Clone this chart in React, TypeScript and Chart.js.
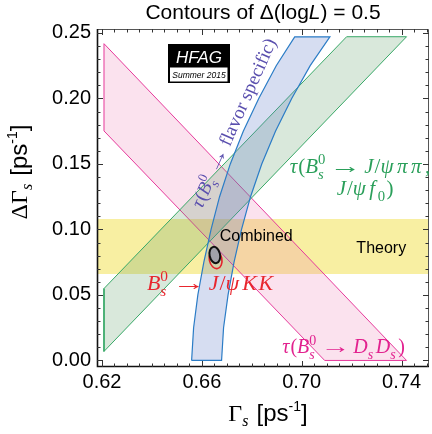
import React, { useEffect, useRef } from 'react';
import { Chart, registerables } from 'chart.js';

Chart.register(...registerables);

// ---------- axes ----------
const gammaMin = 0.618;
const gammaMax = 0.751;
const deltaGammaMin = -0.005;
const deltaGammaMax = 0.253;
const xTickLabels = ['0.62', '0.66', '0.70', '0.74'];
const yTickLabels = ['0.00', '0.05', '0.10', '0.15', '0.20', '0.25'];
const xTickStart = 0.62;
const xTickStep = 0.005;
const xTickCount = 27;
const yTickStart = 0.0;
const yTickStep = 0.01;
const yTickCount = 26;

// ---------- constraint bands (Γs, ΔΓs) ----------
// τ(Bs → Ds Ds)
const dsdsGamma = [0.6208, 0.742, 0.7092, 0.6208, 0.6208];
const dsdsDeltaGamma = [0.2418, 0.0, 0.0, 0.1752, 0.2418];

// τ(Bs → J/ψππ, J/ψf0)
const pipiGamma = [0.6208, 0.742, 0.718, 0.6208, 0.6208];
const pipiDeltaGamma = [0.0069, 0.2471, 0.2471, 0.0549, 0.0069];

// τ(Bs → flavour specific): Γs edges of the band at each ΔΓs
const fsDeltaGamma = [0, 0.025, 0.05, 0.075, 0.1, 0.125, 0.15, 0.175, 0.2, 0.225, 0.247];
const fsGammaLow = [0.6559, 0.6567, 0.6584, 0.6608, 0.6637, 0.6671, 0.6714, 0.6766, 0.6828, 0.6898, 0.6972];
const fsGammaHigh = [0.6679, 0.6687, 0.6705, 0.6729, 0.6759, 0.6795, 0.684, 0.6895, 0.696, 0.7034, 0.7113];

// theory prediction for ΔΓs
const theoryDeltaGamma = [0.066, 0.108];

// ΔlogL = 0.5 contours: [Γs, ΔΓs, σ(Γs), σ(ΔΓs)]
const combinedContour = [0.6652, 0.0805, 0.0021, 0.0063];
const jpsiKKContour = [0.6655, 0.0772, 0.0025, 0.0072];
const contourTiltDeg = -12;

// ---------- helpers ----------
const SERIF = '"Liberation Serif", "DejaVu Serif", serif';
const SANS = '"Liberation Sans", "DejaVu Sans", sans-serif';

const toPoints = (xs: number[], ys: number[]) => xs.map((x, i) => ({ x, y: ys[i] }));

const fsPoints = [
  ...fsDeltaGamma.map((d, i) => ({ x: fsGammaLow[i], y: d })),
  ...fsDeltaGamma.map((d, i) => ({ x: fsGammaHigh[i], y: d })).reverse(),
];
fsPoints.push({ ...fsPoints[0] });

const theoryPoints = toPoints(
  [gammaMin, gammaMax, gammaMax, gammaMin, gammaMin],
  [theoryDeltaGamma[0], theoryDeltaGamma[0], theoryDeltaGamma[1], theoryDeltaGamma[1], theoryDeltaGamma[0]]
);

const xTickValues = Array.from({ length: xTickCount }, (_, i) => +(xTickStart + i * xTickStep).toFixed(4));
const yTickValues = Array.from({ length: yTickCount }, (_, i) => +(yTickStart + i * yTickStep).toFixed(4));

const labelFor = (v: number, labels: string[]) => labels.find((l) => Math.abs(parseFloat(l) - v) < 1e-6) ?? '';

type Run = {
  t?: string;
  f?: string;
  dy?: number;
  sx?: number;
  pad?: number;
  lead?: number;
  sub?: string;
  sup?: string;
  subF?: string;
  supF?: string;
  subDy?: number;
  supDy?: number;
};

function runWidth(ctx: CanvasRenderingContext2D, r: Run) {
  if (r.t !== undefined) {
    ctx.font = r.f!;
    return ctx.measureText(r.t).width * (r.sx || 1) + (r.pad || 0) + (r.lead || 0);
  }
  let w = 0;
  if (r.sub) {
    ctx.font = r.subF!;
    w = Math.max(w, ctx.measureText(r.sub).width);
  }
  if (r.sup) {
    ctx.font = r.supF!;
    w = Math.max(w, ctx.measureText(r.sup).width);
  }
  return w + 1.5 + (r.pad || 0);
}

function drawRuns(ctx: CanvasRenderingContext2D, runs: Run[], x: number, y: number, align: 'left' | 'center' = 'left') {
  const widths = runs.map((r) => runWidth(ctx, r));
  const total = widths.reduce((a, b) => a + b, 0);
  let cx = align === 'center' ? x - total / 2 : x;
  ctx.textAlign = 'left';
  ctx.textBaseline = 'alphabetic';
  runs.forEach((r, i) => {
    if (r.t !== undefined) {
      ctx.font = r.f!;
      const gx = cx + (r.lead || 0);
      if (r.sx) {
        ctx.save();
        ctx.translate(gx, y + (r.dy || 0));
        ctx.scale(r.sx, 1);
        ctx.fillText(r.t, 0, 0);
        ctx.restore();
      } else {
        ctx.fillText(r.t, gx, y + (r.dy || 0));
      }
    } else {
      if (r.sub) {
        ctx.font = r.subF!;
        ctx.fillText(r.sub, cx, y + (r.subDy || 0));
      }
      if (r.sup) {
        ctx.font = r.supF!;
        ctx.fillText(r.sup, cx, y + (r.supDy || 0));
      }
    }
    cx += widths[i];
  });
}

function mathFonts(size: number) {
  return {
    it: `italic ${size}px ${SERIF}`,
    rm: `${size}px ${SERIF}`,
    sIt: `italic ${(size * 0.7).toFixed(1)}px ${SERIF}`,
    sRm: `${(size * 0.7).toFixed(1)}px ${SERIF}`,
  };
}

// relation arrow with thick-space padding on both sides
function arrow(size: number): Run[] {
  const m = mathFonts(size);
  return [{ t: '→', f: m.rm, sx: 1.5, lead: size * 0.14, pad: size * 0.14 }];
}

function bsZero(size: number): Run[] {
  const m = mathFonts(size);
  return [
    { t: 'B', f: m.it },
    { sub: 's', sup: '0', subF: m.sIt, supF: m.sRm, subDy: size * 0.28, supDy: -size * 0.42 },
  ];
}

function greek(chars: string, size: number, pad: number): Run[] {
  const m = mathFonts(size);
  return chars.split('').map((c) => ({ t: c, f: m.it, pad }));
}

function fsLabel(size: number): Run[] {
  const m = mathFonts(size);
  return [
    { t: 'τ', f: m.it, pad: 1 },
    { t: '(', f: m.rm },
    ...bsZero(size),
    ...arrow(size),
    { t: 'flavor specific)', f: m.rm },
  ];
}

function pipiLabel1(size: number): Run[] {
  const m = mathFonts(size);
  return [
    { t: 'τ', f: m.it, pad: 1 },
    { t: '(', f: m.rm },
    ...bsZero(size),
    ...arrow(size),
    { t: 'J', f: m.it, pad: 1 },
    { t: '/', f: m.rm },
    ...greek('ψππ', size, 3.5),
    { t: ',', f: m.rm },
  ];
}

function pipiLabel2(size: number): Run[] {
  const m = mathFonts(size);
  return [
    { t: 'J', f: m.it, pad: 1 },
    { t: '/', f: m.rm },
    ...greek('ψ', size, 3.5),
    { t: 'f', f: m.it, pad: 2.5 },
    { sub: '0', subF: m.sRm, subDy: size * 0.28 },
    { t: ')', f: m.rm },
  ];
}

function kkLabel(size: number): Run[] {
  const m = mathFonts(size);
  return [
    ...bsZero(size),
    ...arrow(size),
    { t: 'J', f: m.it, pad: 1 },
    { t: '/', f: m.rm },
    ...greek('ψ', size, 3),
    { t: 'K', f: m.it, pad: 1.5 },
    { t: 'K', f: m.it },
  ];
}

function dsdsLabel(size: number): Run[] {
  const m = mathFonts(size);
  return [
    { t: 'τ', f: m.it, pad: 1 },
    { t: '(', f: m.rm },
    ...bsZero(size),
    ...arrow(size),
    { t: 'D', f: m.it },
    { sub: 's', subF: m.sIt, subDy: size * 0.28, pad: 1 },
    { t: 'D', f: m.it },
    { sub: 's', subF: m.sIt, subDy: size * 0.28, pad: 1 },
    { t: ')', f: m.rm },
  ];
}

function axisTitle(symbol: Run[], size: number): Run[] {
  return [
    ...symbol,
    { t: ' [ps', f: `${size}px ${SANS}` },
    { t: '-1', f: `${Math.round(size * 0.6)}px ${SANS}`, dy: -size * 0.42 },
    { t: ']', f: `${size}px ${SANS}` },
  ];
}

const decorations = {
  id: 'decorations',
  afterDatasetsDraw(chart: any) {
    const { ctx, chartArea: a, scales } = chart;
    const xs = scales.x;
    const ys = scales.y;
    const px = (v: number) => xs.getPixelForValue(v);
    const py = (v: number) => ys.getPixelForValue(v);

    // likelihood contours
    const contour = (c: number[], stroke: string, lw: number, fill?: string) => {
      const cx = px(c[0]);
      const cy = py(c[1]);
      const rx = Math.abs(px(c[0] + c[2]) - cx);
      const ry = Math.abs(py(c[1] + c[3]) - cy);
      ctx.save();
      ctx.beginPath();
      ctx.ellipse(cx, cy, rx, ry, (contourTiltDeg * Math.PI) / 180, 0, Math.PI * 2);
      if (fill) {
        ctx.fillStyle = fill;
        ctx.fill();
      }
      ctx.lineWidth = lw;
      ctx.strokeStyle = stroke;
      ctx.stroke();
      ctx.restore();
    };
    contour(jpsiKKContour, '#e3232c', 1.6);
    contour(combinedContour, '#111111', 2, '#a2a2aa');

    // frame
    ctx.save();
    ctx.strokeStyle = '#555';
    ctx.lineWidth = 1;
    ctx.beginPath();
    ctx.moveTo(a.left, a.top + 0.5);
    ctx.lineTo(a.right - 0.5, a.top + 0.5);
    ctx.lineTo(a.right - 0.5, a.bottom);
    ctx.stroke();
    ctx.strokeStyle = '#111';
    ctx.lineWidth = 1.6;
    ctx.beginPath();
    ctx.moveTo(a.left + 0.5, a.top);
    ctx.lineTo(a.left + 0.5, a.bottom - 0.5);
    ctx.lineTo(a.right, a.bottom - 0.5);
    ctx.stroke();

    // inward tick marks on all four sides
    ctx.strokeStyle = '#333';
    ctx.lineWidth = 1;
    ctx.beginPath();
    xs.ticks.forEach((t: any) => {
      const x = Math.round(px(t.value)) + 0.5;
      const len = labelFor(t.value, xTickLabels) ? 6 : 3.5;
      ctx.moveTo(x, a.bottom);
      ctx.lineTo(x, a.bottom - len);
      ctx.moveTo(x, a.top);
      ctx.lineTo(x, a.top + len);
    });
    ys.ticks.forEach((t: any) => {
      const y = Math.round(py(t.value)) + 0.5;
      const len = labelFor(t.value, yTickLabels) ? 6 : 3.5;
      ctx.moveTo(a.left, y);
      ctx.lineTo(a.left + len, y);
      ctx.moveTo(a.right, y);
      ctx.lineTo(a.right - len, y);
    });
    ctx.stroke();
    ctx.restore();

    // band labels
    ctx.save();
    ctx.fillStyle = '#5a4fae';
    ctx.translate(px(0.6601), py(0.1155));
    ctx.rotate((-66 * Math.PI) / 180);
    drawRuns(ctx, fsLabel(19), 0, 0);
    ctx.restore();

    ctx.save();
    ctx.fillStyle = '#2a9f5a';
    drawRuns(ctx, pipiLabel1(21), px(0.6952), py(0.1431));
    drawRuns(ctx, pipiLabel2(21), px(0.714), py(0.1262));

    ctx.fillStyle = '#e8262e';
    drawRuns(ctx, kkLabel(22), px(0.638), py(0.0536));

    ctx.fillStyle = '#e2228f';
    drawRuns(ctx, dsdsLabel(20), px(0.6922), py(0.0054));

    ctx.fillStyle = '#000';
    ctx.font = `16px ${SANS}`;
    ctx.textAlign = 'left';
    ctx.textBaseline = 'alphabetic';
    ctx.fillText('Combined', px(0.6672), py(0.0914));
    ctx.fillText('Theory', px(0.7219), py(0.0821));
    ctx.restore();

    // HFAG badge
    ctx.save();
    const bx = a.left + 71;
    const by = a.top + 15;
    ctx.fillStyle = '#000';
    ctx.fillRect(bx, by, 62, 39);
    ctx.fillStyle = '#fff';
    ctx.fillRect(bx + 2, by + 23.5, 57.5, 14);
    ctx.font = `italic 17px ${SANS}`;
    ctx.textAlign = 'center';
    ctx.textBaseline = 'alphabetic';
    ctx.fillText('HFAG', bx + 31, by + 18.5);
    ctx.fillStyle = '#000';
    ctx.font = `italic 8.5px ${SANS}`;
    ctx.fillText('Summer 2015', bx + 31, by + 34);
    ctx.restore();
  },
  afterDraw(chart: any) {
    const { ctx, chartArea: a } = chart;
    const mid = (a.left + a.right) / 2;
    ctx.save();
    ctx.fillStyle = '#000';
    drawRuns(
      ctx,
      [
        { t: 'Contours of Δ(log', f: `21px ${SANS}` },
        { t: 'L', f: `italic 21px ${SANS}` },
        { t: ') = 0.5', f: `21px ${SANS}` },
      ],
      mid,
      19,
      'center'
    );
    drawRuns(
      ctx,
      axisTitle(
        [
          { t: 'Γ', f: `24px ${SERIF}` },
          { sub: 's', subF: `italic 16px ${SERIF}`, subDy: 5 },
        ],
        24
      ),
      mid + 5,
      421,
      'center'
    );
    ctx.translate(27, 172);
    ctx.rotate(-Math.PI / 2);
    drawRuns(
      ctx,
      axisTitle(
        [
          { t: 'ΔΓ', f: `24px ${SERIF}` },
          { sub: 's', subF: `italic 16px ${SERIF}`, subDy: 5 },
        ],
        24
      ),
      0,
      0,
      'center'
    );
    ctx.restore();
  },
};

export default function App() {
  const ref = useRef<HTMLCanvasElement>(null);

  useEffect(() => {
    const canvas = ref.current;
    if (!canvas) return;
    const band = (label: string, data: any[], border: string, fill: string, width = 1) => ({
      label,
      data,
      borderColor: border,
      backgroundColor: fill,
      borderWidth: width,
      fill: 'shape',
      pointRadius: 0,
      tension: 0,
    });
    const chart = new Chart(canvas, {
      type: 'line',
      data: {
        datasets: [
          band('flavour specific', fsPoints, '#2b7cc6', 'rgba(90,120,200,0.25)', 1.2),
          band('J/ψππ', toPoints(pipiGamma, pipiDeltaGamma), '#38a867', 'rgba(80,150,90,0.22)'),
          band('DsDs', toPoints(dsdsGamma, dsdsDeltaGamma), '#e6399b', 'rgba(236,110,170,0.2)'),
          band('Theory', theoryPoints, 'rgba(0,0,0,0)', 'rgba(242,224,70,0.5)', 0),
        ],
      },
      options: {
        animation: false,
        responsive: false,
        devicePixelRatio: 1,
        events: [],
        layout: { padding: { top: 29, right: 3, left: 0, bottom: 0 } },
        plugins: { legend: { display: false }, tooltip: { enabled: false }, title: { display: false } },
        scales: {
          x: {
            type: 'linear',
            min: gammaMin,
            max: gammaMax,
            afterBuildTicks: (s: any) => {
              s.ticks = xTickValues.map((value) => ({ value }));
            },
            afterFit: (s: any) => {
              s.height = 67;
            },
            ticks: {
              autoSkip: false,
              maxRotation: 0,
              minRotation: 0,
              padding: 3,
              color: '#000',
              font: { family: SANS, size: 20 },
              callback: (v: any) => labelFor(Number(v), xTickLabels),
            },
            grid: { display: false, drawTicks: false },
            border: { display: false },
          },
          y: {
            type: 'linear',
            min: deltaGammaMin,
            max: deltaGammaMax,
            afterBuildTicks: (s: any) => {
              s.ticks = yTickValues.map((value) => ({ value }));
            },
            afterFit: (s: any) => {
              s.width = 97;
            },
            ticks: {
              autoSkip: false,
              padding: 6,
              color: '#000',
              font: { family: SANS, size: 20 },
              callback: (v: any) => labelFor(Number(v), yTickLabels),
            },
            grid: { display: false, drawTicks: false },
            border: { display: false },
          },
        },
      },
      plugins: [decorations],
    } as any);
    return () => chart.destroy();
  }, []);

  return (
    <canvas
      ref={ref}
      width={432}
      height={434}
      style={{ position: 'fixed', left: 0, top: 0, width: 432, height: 434, background: '#fff' }}
    />
  );
}
